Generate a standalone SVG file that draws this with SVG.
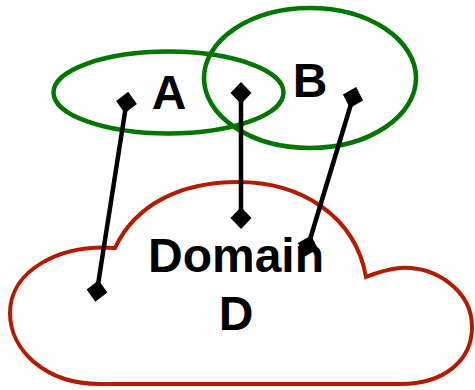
<svg xmlns="http://www.w3.org/2000/svg" width="475" height="390" viewBox="0 0 475 390">
  <style>
    .set { fill: none; stroke: #007500; stroke-width: 4.5; }
    .domain { fill: #ffffff; stroke: #b31b00; stroke-width: 4; stroke-linejoin: miter; }
    .label { font-family: "Liberation Sans", Arial, sans-serif; font-weight: bold; font-size: 48px; fill: #000000; text-anchor: middle; }
    .link { stroke: #000000; stroke-width: 4.5; fill: none; marker-start: url(#diamond); marker-end: url(#diamond); }
  </style>
  <defs>
    <marker id="diamond" viewBox="-11 -11 22 22" refX="0" refY="0" markerWidth="22" markerHeight="22" markerUnits="userSpaceOnUse" orient="auto">
      <path d="M-11,0 L0,-10.5 L11,0 L0,10.5 Z" fill="#000000"/>
    </marker>
  </defs>

  <!-- domain cloud -->
  <g id="domain-d">
    <path class="domain" d="M115,248 C135,205 180,182 238,182 C300,182 355,215 366,277 C376,273 388,269 400,268 C435,266 472,290 472,327 C472,360 445,384 400,384 L100,384 C45,384 10,350 10,313 C10,270 60,244 115,248 Z"/>
    <text class="label" x="236" y="272">Domain</text>
    <text class="label" x="236" y="330">D</text>
  </g>

  <!-- set A -->
  <g id="set-a">
    <ellipse class="set" cx="168.5" cy="92.5" rx="115" ry="41"/>
    <text class="label" x="169" y="109">A</text>
  </g>

  <!-- set B -->
  <g id="set-b">
    <ellipse class="set" cx="310" cy="78" rx="106" ry="70"/>
    <text class="label" x="310" y="97">B</text>
  </g>

  <!-- mappings into the domain -->
  <g id="connectors">
    <line class="link" x1="126.5" y1="102.5" x2="97" y2="291"/>
    <line class="link" x1="241" y1="93" x2="241" y2="218"/>
    <line class="link" x1="353" y1="97.5" x2="308" y2="246"/>
  </g>
</svg>
